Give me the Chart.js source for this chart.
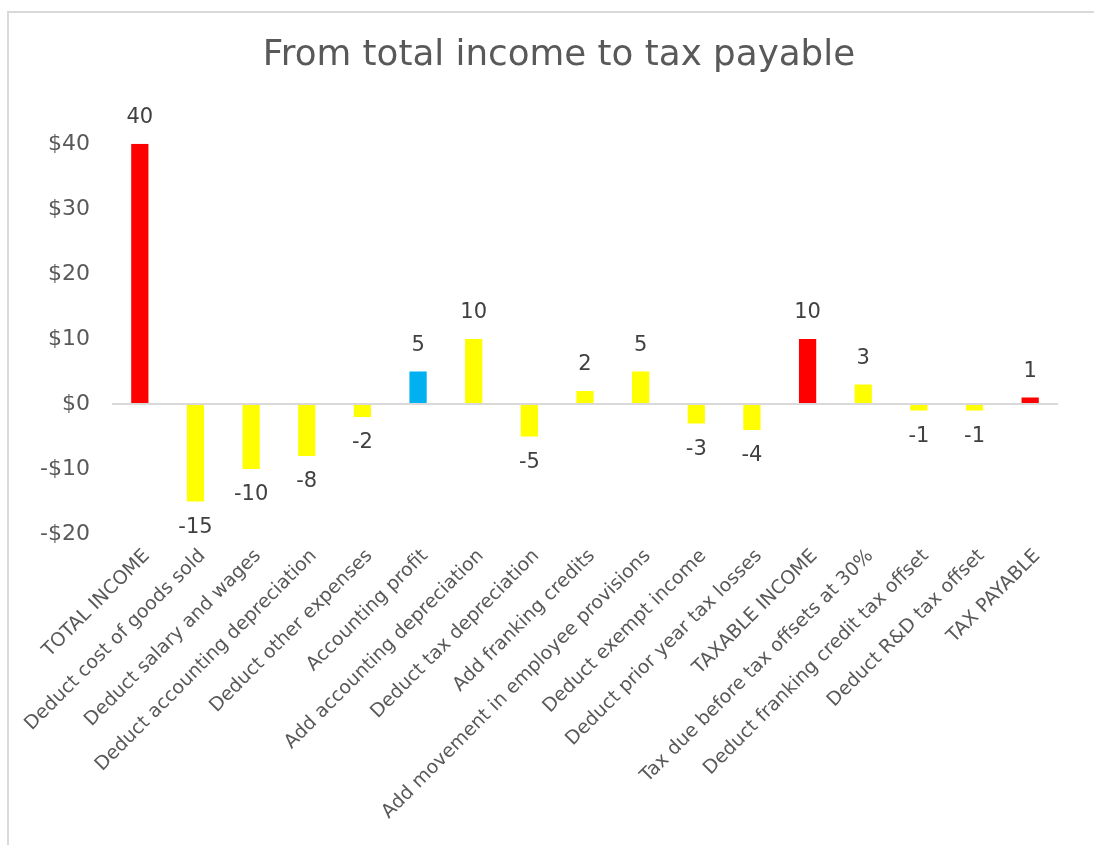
<!DOCTYPE html>
<html>
<head>
<meta charset="utf-8">
<script src="https://cdn.jsdelivr.net/npm/chart.js@4/dist/chart.umd.min.js"></script>
<style>
  html, body { margin: 0; padding: 0; background: #fff; overflow: hidden; }
  #frame { position: absolute; left: 7px; top: 11px; width: 1200px; height: 1000px; border: 2px solid #d9d9d9; box-sizing: border-box; }
  #wrap { position: absolute; left: 0; top: 0; width: 1094px; height: 845px; }
</style>
</head>
<body>
<div id="frame"></div>
<div id="wrap"><canvas id="chart"></canvas></div>
<script>
const categories = [
  'TOTAL INCOME',
  'Deduct cost of goods sold',
  'Deduct salary and wages',
  'Deduct accounting depreciation',
  'Deduct other expenses',
  'Accounting profit',
  'Add accounting depreciation',
  'Deduct tax depreciation',
  'Add franking credits',
  'Add movement in employee provisions',
  'Deduct exempt income',
  'Deduct prior year tax losses',
  'TAXABLE INCOME',
  'Tax due before tax offsets at 30%',
  'Deduct franking credit tax offset',
  'Deduct R&D tax offset',
  'TAX PAYABLE'
];
const amounts = [40, -15, -10, -8, -2, 5, 10, -5, 2, 5, -3, -4, 10, 3, -1, -1, 1];
const kinds = ['total', 'step', 'step', 'step', 'step', 'profit', 'step', 'step', 'step', 'step', 'step', 'step', 'total', 'step', 'step', 'step', 'total'];
const yTicks = [-20, -10, 0, 10, 20, 30, 40];

const kindColours = { total: '#ff0000', step: '#ffff00', profit: '#00b0f0' };
const FONT = '"DejaVu Sans", sans-serif';

// value labels above positive bars, below negative ones
const barLabels = {
  id: 'barLabels',
  afterLayout(chart) {
    // centre the title a little right, as in the original
    if (chart.titleBlock) chart.titleBlock.left = 60;
  },
  afterDatasetsDraw(chart) {
    const ctx = chart.ctx;
    const meta = chart.getDatasetMeta(0);
    ctx.save();
    ctx.font = '21px ' + FONT;
    ctx.fillStyle = '#404040';
    ctx.textAlign = 'center';
    ctx.textBaseline = 'middle';
    meta.data.forEach((bar, i) => {
      const v = amounts[i];
      const y = v >= 0 ? bar.y - 26 : bar.y + 26;
      ctx.fillText(String(v), bar.x, y);
    });
    ctx.restore();
  }
};

new Chart(document.getElementById('chart'), {
  type: 'bar',
  data: {
    labels: categories,
    datasets: [{
      data: amounts,
      backgroundColor: kinds.map(k => kindColours[k]),
      borderWidth: 0,
      categoryPercentage: 1,
      barPercentage: 0.31
    }]
  },
  options: {
    responsive: true,
    maintainAspectRatio: false,
    animation: false,
    layout: { padding: { left: 0, right: 36, top: 0, bottom: 0 } },
    plugins: {
      legend: { display: false },
      tooltip: { enabled: false },
      title: {
        display: true,
        text: 'From total income to tax payable',
        color: '#595959',
        font: { family: FONT, size: 35.7, weight: 'normal' },
        padding: { top: 34, bottom: 67 }
      }
    },
    scales: {
      x: {
        grid: { display: false },
        border: { display: false },
        ticks: {
          color: '#595959',
          font: { family: FONT, size: 19 },
          minRotation: 45,
          maxRotation: 45,
          autoSkip: false,
          padding: 3,
          labelOffset: 7
        },
        afterFit(scale) { scale.height = 311; }
      },
      y: {
        min: -20,
        max: 40,
        afterBuildTicks(scale) { scale.ticks = yTicks.map(v => ({ value: v })); },
        border: { display: false },
        grid: {
          drawTicks: false,
          color: ctx => ctx.tick && ctx.tick.value === 0 ? '#d9d9d9' : 'rgba(0,0,0,0)',
          lineWidth: 2
        },
        ticks: {
          color: '#595959',
          font: { family: FONT, size: 22 },
          padding: 22,
          callback: v => (v < 0 ? '-$' : '$') + Math.abs(v)
        },
        afterFit(scale) { scale.width = 112; }
      }
    }
  },
  plugins: [barLabels]
});
</script>
</body>
</html>
